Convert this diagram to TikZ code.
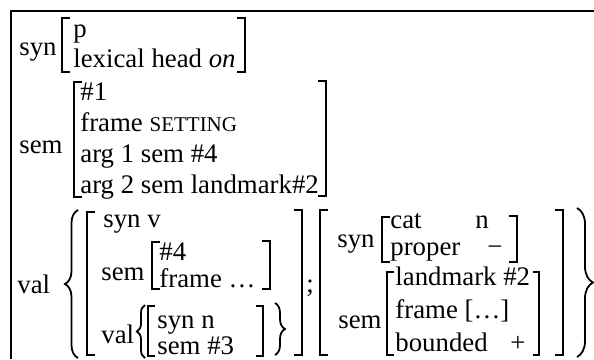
\documentclass[tikz,border=0pt]{standalone}
\usepackage{fontspec}
\setmainfont{Liberation Serif}
\usetikzlibrary{decorations.pathreplacing}

\begin{document}
\begin{tikzpicture}[
  x=0.5pt, y=-0.5pt, font=\fontsize{13.4}{15}\selectfont,
  attr/.style ={inner sep=0pt, anchor=base west},
  brk/.style  ={line width=0.9pt},
  brc/.style  ={line width=0.9pt, decorate, decoration={brace, amplitude=#1}},
  frm/.style  ={line width=1pt}]
  \useasboundingbox (0,0) rectangle (594,359);
  \draw[frm] (11,359) |- (594,11);
  % syn
  \node[attr] (synA) at (19,55) {syn};
  \node[attr] (synP) at (73,37) {p};
  \node[attr] (synHead) at (73,67) {lexical head \textit{on}};
  \draw[brk] (70,18) -- (62,18) -- (62,72) -- (70,72);
  \draw[brk] (237,18) -- (245,18) -- (245,72) -- (237,72);
  % sem
  \node[attr] (semA) at (19,153) {sem};
  \node[attr] (semIdx) at (80,100) {\#1};
  \node[attr] (semFrame) at (80,131) {frame {\fontsize{10.5}{12}\selectfont SETTING}};
  \node[attr] (semArg1) at (80,162) {arg 1 sem \#4};
  \node[attr] (semArg2) at (80,193) {arg 2 sem landmark\#2};
  \draw[brk] (82,82) -- (74,82) -- (74,197) -- (82,197);
  \draw[brk] (318,81) -- (326,81) -- (326,196) -- (318,196);
  % val
  \node[attr] (valA) at (17,293) {val};
  \draw[brc=6.5pt] (78,358) -- (78,210);
  \draw[brc=8pt] (577,208) -- (577,357);
  % first valence element
  \draw[brk] (95,212) -- (87,212) -- (87,355) -- (95,355);
  \draw[brk] (294,210) -- (302,210) -- (302,355) -- (294,355);
  \node[attr] (vSyn) at (103,227) {syn v};
  \node[attr] (vSem) at (101,280) {sem};
  \node[attr] (vSemIdx) at (159,260) {\#4};
  \node[attr] (vSemFrame) at (159,287) {frame …};
  \draw[brk] (160,242) -- (152,242) -- (152,289) -- (160,289);
  \draw[brk] (262,241) -- (270,241) -- (270,289) -- (262,289);
  \node[attr] (vVal) at (101,343) {val};
  \draw[brc=4pt] (145,358) -- (145,305);
  \draw[brk] (155,306) -- (148,306) -- (148,356) -- (155,356);
  \draw[brk] (256,306) -- (263,306) -- (263,356) -- (256,356);
  \node[attr] (vValSyn) at (157,328) {syn n};
  \node[attr] (vValSem) at (157,354) {sem \#3};
  \draw[brc=5pt] (275,303) -- (275,355);
  \node[attr] (semi) at (306,292) {;};
  % second valence element
  \draw[brk] (328,210) -- (320,210) -- (320,355) -- (328,355);
  \draw[brk] (555,210) -- (563,210) -- (563,355) -- (555,355);
  \node[attr] (wSyn) at (337,247) {syn};
  \draw[brk] (390,217) -- (382,217) -- (382,262) -- (390,262);
  \draw[brk] (509,216) -- (517,216) -- (517,262) -- (509,262);
  \node[attr] (wCat) at (390,228) {cat};
  \node[attr] (wCatV) at (475,228) {n};
  \node[attr] (wProp) at (390,255) {proper};
  \node[attr] (wPropV) at (487,255) {−};
  \node[attr] (wSem) at (338,328) {sem};
  \draw[brk] (394,272) -- (387,272) -- (387,355) -- (394,355);
  \draw[brk] (533,272) -- (539,272) -- (539,355) -- (533,355);
  \node[attr] (wLand) at (395,285) {landmark \#2};
  \node[attr] (wFrame) at (395,318) {frame […]};
  \node[attr] (wBound) at (395,351) {bounded};
  \node[attr] (wBoundV) at (510,351) {+};
\end{tikzpicture}
\end{document}
